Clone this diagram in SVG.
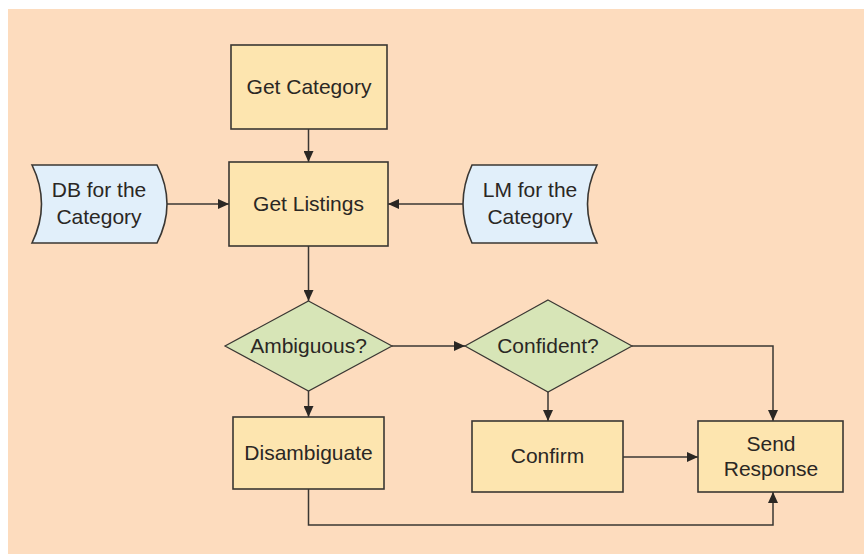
<svg xmlns="http://www.w3.org/2000/svg" width="864" height="554" viewBox="0 0 864 554">
<style>
.box{fill:#FDE5AF;stroke:#3a3733;stroke-width:1.6}
.dec{fill:#D7E5B7;stroke:#3a3733;stroke-width:1.2}
.data{fill:#E1EFFA;stroke:#3a3733;stroke-width:1.6}
.lbl{font-family:"Liberation Sans",Arial,sans-serif;font-size:21px;fill:#2a2724;text-anchor:middle}
.con{fill:none;stroke:#3a3733;stroke-width:1.5;marker-end:url(#ah)}
</style>
<defs>
<marker id="ah" markerUnits="userSpaceOnUse" markerWidth="11" markerHeight="10" refX="11" refY="5" orient="auto">
<path d="M0,0 L11,5 L0,10 Z" fill="#2a2724"/>
</marker>
</defs>
<rect x="8" y="9" width="856" height="545" fill="#FDDCBE"/>
<g id="connectors">
<path class="con" d="M308.5,129 V162"/>
<path class="con" d="M167,204 H229"/>
<path class="con" d="M463,204 H388"/>
<path class="con" d="M308.5,246 V301"/>
<path class="con" d="M308.5,391 V417"/>
<path class="con" d="M392,346 H465"/>
<path class="con" d="M632,346 H773 V421"/>
<path class="con" d="M548,392 V421"/>
<path class="con" d="M623,457 H698"/>
<path class="con" d="M308.5,489 V525 H773 V492"/>
</g>
<g id="get-category">
<rect class="box" x="231" y="45" width="156" height="84"/>
<text class="lbl" x="309" y="94">Get Category</text>
</g>
<g id="get-listings">
<rect class="box" x="229" y="162" width="159" height="84"/>
<text class="lbl" x="308.5" y="211">Get Listings</text>
</g>
<g id="db">
<path class="data" d="M32,165 H157 Q177,204 157,243 H32 Q51,204 32,165 Z"/>
<text class="lbl" x="99" y="197">DB for the</text>
<text class="lbl" x="99" y="224">Category</text>
</g>
<g id="lm">
<path class="data" d="M472,165 H597 Q578,204 597,243 H472 Q454,204 472,165 Z"/>
<text class="lbl" x="530" y="197">LM for the</text>
<text class="lbl" x="530" y="224">Category</text>
</g>
<g id="ambiguous">
<path class="dec" d="M308.5,301 L392,346 L308.5,391 L225,346 Z"/>
<text class="lbl" x="308.5" y="353">Ambiguous?</text>
</g>
<g id="confident">
<path class="dec" d="M548,300 L632,346 L548,392 L465,346 Z"/>
<text class="lbl" x="548" y="353">Confident?</text>
</g>
<g id="disambiguate">
<rect class="box" x="233" y="417" width="151" height="72"/>
<text class="lbl" x="308.5" y="460">Disambiguate</text>
</g>
<g id="confirm">
<rect class="box" x="472" y="421" width="151" height="71"/>
<text class="lbl" x="547.5" y="463">Confirm</text>
</g>
<g id="send-response">
<rect class="box" x="698" y="421" width="145" height="71"/>
<text class="lbl" x="771" y="451">Send</text>
<text class="lbl" x="771" y="476">Response</text>
</g>
</svg>
